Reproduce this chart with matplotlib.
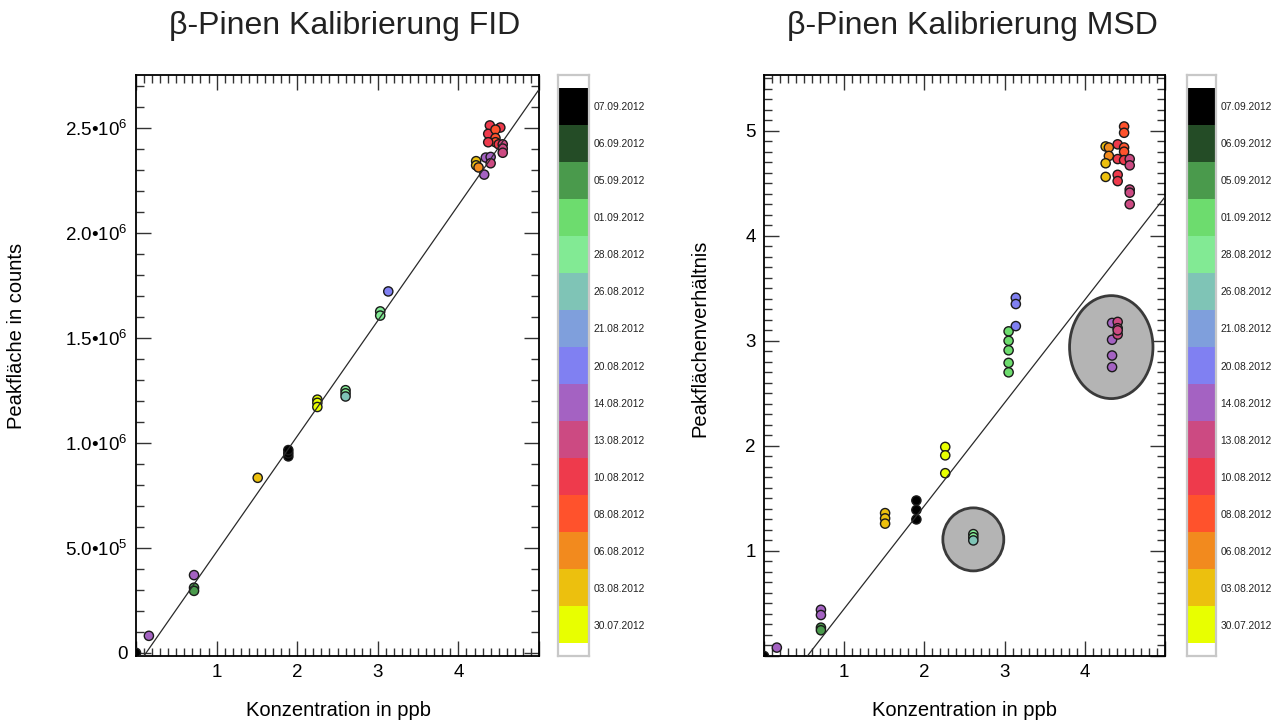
import matplotlib
matplotlib.use('Agg')
import matplotlib.pyplot as plt
from matplotlib.patches import Ellipse
from matplotlib.ticker import MultipleLocator
import numpy as np

plt.rcParams['font.family'] = ['Liberation Sans', 'DejaVu Sans']
plt.rcParams['mathtext.fontset'] = 'custom'
plt.rcParams['mathtext.rm'] = 'Liberation Sans'
plt.rcParams['mathtext.it'] = 'Liberation Sans'

# measurement days, newest first (colour key)
dates = ['07.09.2012', '06.09.2012', '05.09.2012', '01.09.2012', '28.08.2012',
         '26.08.2012', '21.08.2012', '20.08.2012', '14.08.2012', '13.08.2012',
         '10.08.2012', '08.08.2012', '06.08.2012', '03.08.2012', '30.07.2012']
date_colors = ['#000000', '#244c26', '#4a9a4c', '#6ddc6e', '#82ea94',
               '#7fc4b6', '#7f9fdc', '#8080f2', '#a462c2', '#cc4a82',
               '#ee3a4c', '#ff522c', '#f28a1e', '#ecc00e', '#e8ff00']

# FID: concentration (ppb), peak area (counts), day
fid_conc = [0.0, 0.16, 0.72, 0.72, 0.72,
            1.51, 1.89, 1.89, 1.89,
            2.25, 2.25, 2.25, 2.60, 2.60, 2.60,
            3.03, 3.03, 3.13,
            4.39, 4.52, 4.37, 4.46, 4.46, 4.46, 4.37, 4.50,
            4.55, 4.55, 4.55, 4.22, 4.22, 4.25,
            4.34, 4.40, 4.40, 4.32]
fid_area = [0.0, 0.081e6, 0.370e6, 0.310e6, 0.295e6,
            0.833e6, 0.935e6, 0.950e6, 0.965e6,
            1.205e6, 1.190e6, 1.170e6, 1.250e6, 1.235e6, 1.220e6,
            1.625e6, 1.605e6, 1.720e6,
            2.510e6, 2.500e6, 2.470e6, 2.490e6, 2.450e6, 2.430e6, 2.430e6, 2.420e6,
            2.420e6, 2.400e6, 2.380e6, 2.340e6, 2.320e6, 2.310e6,
            2.357e6, 2.360e6, 2.330e6, 2.276e6]
fid_day = ['07.09.2012', '14.08.2012', '14.08.2012', '05.09.2012', '05.09.2012',
           '03.08.2012', '07.09.2012', '07.09.2012', '07.09.2012',
           '30.07.2012', '30.07.2012', '30.07.2012', '28.08.2012', '28.08.2012', '26.08.2012',
           '28.08.2012', '28.08.2012', '20.08.2012',
           '10.08.2012', '10.08.2012', '10.08.2012', '08.08.2012', '08.08.2012', '08.08.2012',
           '10.08.2012', '10.08.2012',
           '13.08.2012', '13.08.2012', '13.08.2012', '03.08.2012', '03.08.2012', '06.08.2012',
           '14.08.2012', '14.08.2012', '13.08.2012', '14.08.2012']
fid_fit = (0.55e6, -0.069e6)  # slope, intercept

# MSD: concentration (ppb), peak area ratio, day
msd_conc = [0.0, 0.16, 0.71, 0.71, 0.71, 0.71,
            1.51, 1.51, 1.51, 1.90, 1.90, 1.90,
            2.26, 2.26, 2.26, 2.61, 2.61, 2.61,
            3.05, 3.05, 3.05, 3.05, 3.05, 3.14, 3.14, 3.14,
            4.34, 4.34, 4.34, 4.34, 4.41, 4.41, 4.41, 4.41,
            4.49, 4.49, 4.26, 4.30, 4.41, 4.49, 4.49, 4.30, 4.26, 4.41,
            4.49, 4.56, 4.56, 4.26, 4.41, 4.41, 4.56, 4.56, 4.56]
msd_ratio = [0.0, 0.08, 0.44, 0.39, 0.27, 0.245,
             1.36, 1.31, 1.26, 1.48, 1.39, 1.30,
             1.99, 1.91, 1.74, 1.16, 1.13, 1.10,
             3.09, 3.00, 2.91, 2.79, 2.70, 3.41, 3.35, 3.14,
             3.17, 3.01, 2.86, 2.75, 3.18, 3.12, 3.06, 3.10,
             5.04, 4.98, 4.85, 4.84, 4.87, 4.84, 4.80, 4.76, 4.69, 4.73,
             4.72, 4.73, 4.67, 4.56, 4.58, 4.52, 4.44, 4.41, 4.30]
msd_day = ['07.09.2012', '14.08.2012', '14.08.2012', '14.08.2012', '05.09.2012', '05.09.2012',
           '03.08.2012', '03.08.2012', '03.08.2012', '07.09.2012', '07.09.2012', '07.09.2012',
           '30.07.2012', '30.07.2012', '30.07.2012', '28.08.2012', '28.08.2012', '26.08.2012',
           '01.09.2012', '01.09.2012', '01.09.2012', '01.09.2012', '01.09.2012',
           '20.08.2012', '20.08.2012', '20.08.2012',
           '14.08.2012', '14.08.2012', '14.08.2012', '14.08.2012',
           '13.08.2012', '13.08.2012', '13.08.2012', '13.08.2012',
           '08.08.2012', '08.08.2012', '03.08.2012', '06.08.2012', '10.08.2012', '08.08.2012',
           '08.08.2012', '06.08.2012', '03.08.2012', '10.08.2012',
           '10.08.2012', '13.08.2012', '13.08.2012', '03.08.2012', '10.08.2012', '10.08.2012',
           '13.08.2012', '13.08.2012', '13.08.2012']
msd_fit = (0.98, -0.53)
# highlighted outlier groups: centre x, centre y, width, height
msd_marks_x = [2.61, 4.33]
msd_marks_y = [1.11, 2.94]
msd_marks_w = [0.76, 1.04]
msd_marks_h = [0.60, 0.98]

W, H = 1277, 724
fig = plt.figure(figsize=(W / 100, H / 100), dpi=100)


def px_box(x0, x1, y0, y1):
    return [x0 / W, 1 - y1 / H, (x1 - x0) / W, (y1 - y0) / H]


def int_label(v, p):
    # no label at the origin or on the last x tick
    if v == 0 or v >= 5:
        return ''
    return f'{v:.0f}'


def style_axes(ax):
    for s in ax.spines.values():
        s.set_linewidth(1.3)
    ax.tick_params(which='both', direction='in', top=True, right=True,
                   labelsize=13.5, width=1, color='#333333')
    ax.tick_params(which='major', length=10.5, pad=6)
    ax.tick_params(which='minor', length=5.5)
    ax.xaxis.set_major_locator(MultipleLocator(1))
    ax.xaxis.set_minor_locator(MultipleLocator(0.1))
    ax.xaxis.set_major_formatter(int_label)


def scatter_days(ax, conc, val, day):
    cols = [date_colors[dates.index(d)] for d in day]
    ax.scatter(conc, val, s=44, c=cols, edgecolors='#1a1a1a', linewidths=1.0,
               zorder=4, clip_on=True)


def fit_line(ax, fit):
    xs = np.array([0.0, 5.0])
    ax.plot(xs, fit[0] * xs + fit[1], color='#2a2a2a', lw=0.9, zorder=5)


def colour_key(box):
    cax = fig.add_axes(box)
    n = len(dates)
    for i, (d, c) in enumerate(zip(dates, date_colors)):
        cax.bar(0, 1, bottom=n - 1 - i, width=1, color=c, align='center')
    cax.set_xlim(-0.5, 0.5)
    cax.set_ylim(-0.35, n + 0.35)
    cax.set_xticks([])
    cax.yaxis.tick_right()
    cax.set_yticks(np.arange(n) + 0.5)
    cax.set_yticklabels(dates[::-1], fontsize=7.4, color='#222222')
    cax.tick_params(axis='y', length=0, pad=3)
    for s in cax.spines.values():
        s.set_color('#c8c8c8')
        s.set_linewidth(1.6)


def sci_label(v, p):
    if abs(v) < 1:
        return '0'
    e = int(np.floor(np.log10(abs(v))))
    return f'{v / 10 ** e:.1f}•10$^{{{e}}}$'


# FID panel
ax1 = fig.add_axes(px_box(136, 539, 75, 656))
style_axes(ax1)
scatter_days(ax1, fid_conc, fid_area, fid_day)
fit_line(ax1, fid_fit)
ax1.set_xlim(0, 5.0)
ax1.set_ylim(-0.015e6, 2.75e6)
ax1.yaxis.set_major_locator(MultipleLocator(0.5e6))
ax1.yaxis.set_minor_locator(MultipleLocator(0.1e6))
ax1.yaxis.set_major_formatter(sci_label)
colour_key(px_box(558, 589, 75, 656))

# MSD panel
ax2 = fig.add_axes(px_box(764, 1165, 75, 656))
style_axes(ax2)
for cx, cy, w, h in zip(msd_marks_x, msd_marks_y, msd_marks_w, msd_marks_h):
    ax2.add_patch(Ellipse((cx, cy), w, h, facecolor='#b4b4b4',
                          edgecolor='#3a3a3a', lw=2.0, zorder=3))
fit_line(ax2, msd_fit)
scatter_days(ax2, msd_conc, msd_ratio, msd_day)
ax2.set_xlim(0, 5.0)
ax2.set_ylim(0, 5.53)
ax2.yaxis.set_major_locator(MultipleLocator(1))
ax2.yaxis.set_minor_locator(MultipleLocator(0.1))
ax2.yaxis.set_major_formatter(lambda v, p: '' if v == 0 else f'{v:.0f}')
colour_key(px_box(1187, 1216, 75, 656))

# titles and axis labels
fig.text(345 / W, 1 - 26 / H, 'β-Pinen Kalibrierung FID', fontsize=23,
         ha='center', va='center', color='#222222')
fig.text(972 / W, 1 - 26 / H, 'β-Pinen Kalibrierung MSD', fontsize=23,
         ha='center', va='center', color='#222222')
fig.text(338 / W, 1 - 711 / H, 'Konzentration in ppb', fontsize=14.5,
         ha='center', va='center')
fig.text(965 / W, 1 - 711 / H, 'Konzentration in ppb', fontsize=14.5,
         ha='center', va='center')
fig.text(17 / W, 1 - 336 / H, 'Peakfläche in counts', fontsize=14.5,
         ha='center', va='center', rotation=90)
fig.text(700 / W, 1 - 338 / H, 'Peakflächenverhältnis', fontsize=14.5,
         ha='center', va='center', rotation=90)

fig.savefig('out.png', dpi=100)
